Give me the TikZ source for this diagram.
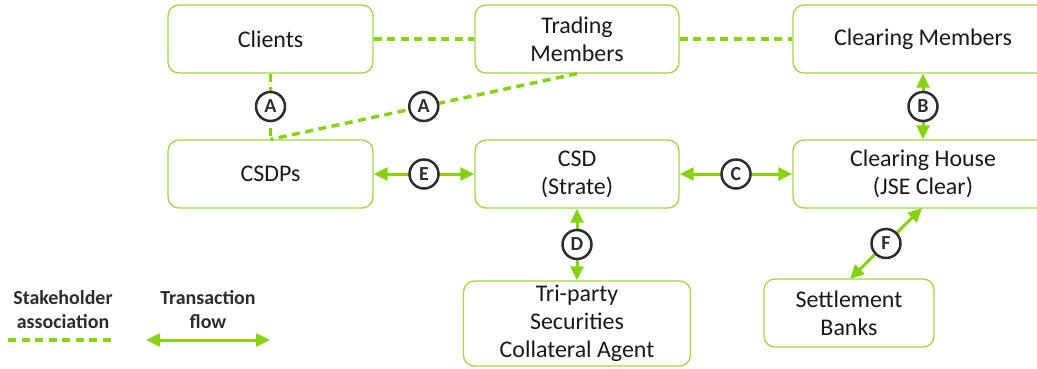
\documentclass[tikz,border=0pt]{standalone}
\usepackage{fontspec}
\setmainfont{Carlito}
\usetikzlibrary{arrows.meta}
\definecolor{lime}{RGB}{136,210,20}
\definecolor{boxgreen}{RGB}{160,215,70}
\definecolor{txt}{RGB}{25,25,25}
\definecolor{lbl}{RGB}{45,45,45}
\tikzset{
  box/.style={draw=boxgreen, line width=1.3bp, rounded corners=11bp, fill=white,
    align=center, text=txt, font=\fontsize{24}{28}\selectfont, inner sep=0pt},
  assoc/.style={draw=lime, line width=3.5bp, dash pattern=on 8bp off 5.5bp},
  flow/.style={draw=lime, line width=3bp, {Triangle[length=14bp,width=13bp]}-{Triangle[length=14bp,width=13bp]}},
  tag/.style={circle, draw=lbl, solid, line width=2.5bp, fill=white, minimum size=29bp, inner sep=0pt,
    text=lbl, font=\fontsize{20}{20}\selectfont\bfseries},
  legend/.style={align=center, text=lbl, font=\fontsize{20}{24}\selectfont\bfseries}
}
\begin{document}
\begin{tikzpicture}[x=1bp,y=-1bp]
\useasboundingbox (0,0) rectangle (1037,368);
\clip (0,0) rectangle (1037,368);
\fill[white] (0,0) rectangle (1037,368);
% boxes
\node[box, minimum width=205bp, minimum height=68bp] (clients) at (270.5,39) {Clients};
\node[box, minimum width=204bp, minimum height=68bp] (trading) at (577,39) {Trading\\Members};
\node[box, minimum width=260bp, minimum height=68bp] (cm) at (923,39) {Clearing Members};
\node[box, minimum width=205bp, minimum height=68bp] (csdp) at (270.5,174) {CSDPs};
\node[box, minimum width=204bp, minimum height=68bp] (csd) at (577,174) {CSD\\(Strate)};
\node[box, minimum width=260bp, minimum height=68bp] (ch) at (923,174) {Clearing House\\(JSE Clear)};
\node[box, minimum width=227bp, minimum height=85bp] (tri) at (577,323.5) {Tri-party\\Securities\\Collateral Agent};
\node[box, minimum width=170bp, minimum height=68bp] (sb) at (849,313) {Settlement\\Banks};
% stakeholder associations
\draw[assoc] (clients) -- (trading);
\draw[assoc] (trading) -- (cm);
\draw[assoc] (clients.south) -- node[tag]{A} (csdp.north);
\draw[assoc] (trading.south) -- node[tag, pos=0.5]{A} (csdp.north);
% transaction flows
\draw[flow] (csdp) -- node[tag]{E} (csd);
\draw[flow] (csd) -- node[tag]{C} (ch);
\draw[flow] (cm) -- node[tag]{B} (ch);
\draw[flow] (csd) -- node[tag]{D} (tri);
\coordinate (chf) at (922,208);
\coordinate (sbf) at (850,279);
\draw[flow] (chf) -- node[tag]{F} (sbf);
% legend
\node[legend] (l1) at (63,310) {Stakeholder\\association};
\node[legend] (l2) at (208,310) {Transaction\\flow};
\coordinate (d1) at (8,340);
\coordinate (d2) at (112,340);
\coordinate (f1) at (146,340);
\coordinate (f2) at (270,340);
\draw[assoc] (d1) -- (d2);
\draw[flow] (f1) -- (f2);
\end{tikzpicture}
\end{document}
